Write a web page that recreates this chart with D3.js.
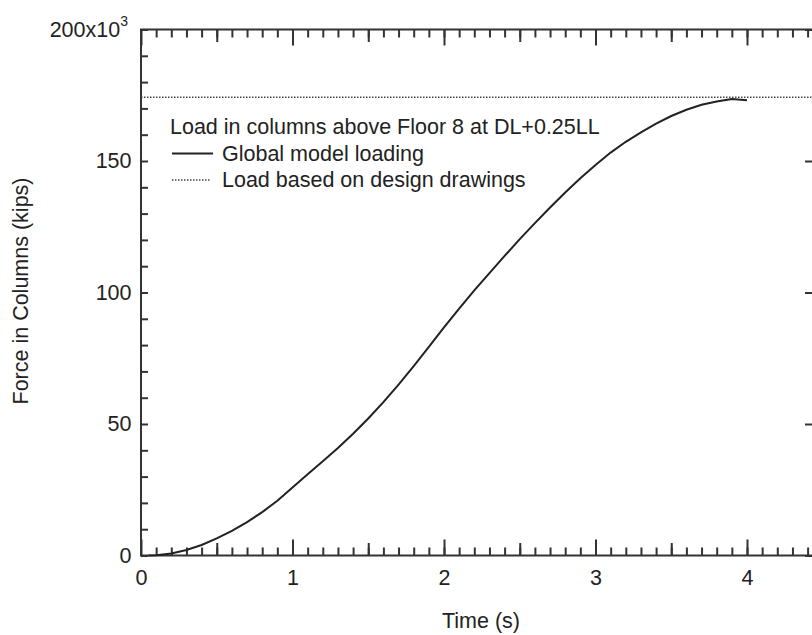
<!DOCTYPE html>
<html>
<head>
<meta charset="utf-8">
<script src="https://cdn.jsdelivr.net/npm/d3@7"></script>
<style>
  body { margin: 0; background: #fff; }
  text { font-family: "Liberation Sans", Arial, sans-serif; fill: #222; }
</style>
</head>
<body>
<div id="chart"></div>
<script>
// data (time in s, force in kips)
var timeValues = [0.05, 0.1, 0.2, 0.3, 0.4, 0.5, 0.6, 0.7, 0.8, 0.9, 1.0,
  1.1, 1.2, 1.3, 1.4, 1.5, 1.6, 1.7, 1.8, 1.9, 2.0,
  2.1, 2.2, 2.3, 2.4, 2.5, 2.6, 2.7, 2.8, 2.9, 3.0,
  3.1, 3.2, 3.3, 3.4, 3.5, 3.6, 3.7, 3.8, 3.9, 4.0];
var globalForce = [0, 100, 800, 2100, 4000, 6500, 9400, 12700, 16500, 20800, 25900,
  30900, 35800, 40900, 46300, 52100, 58300, 65000, 72000, 79300, 86700,
  93900, 100800, 107400, 113900, 120300, 126400, 132300, 138000, 143400, 148500,
  153200, 157300, 160900, 164200, 167100, 169500, 171400, 172600, 173600, 173100];
var designLoad = 174200;

var xMajor = [0, 1, 2, 3, 4];
var yLabels = [0, 50000, 100000, 150000, 200000];

var legendTitle = "Load in columns above Floor 8 at DL+0.25LL";
var legendItems = ["Global model loading", "Load based on design drawings"];

// dimensions (plot frame in pixels)
var width = 812, height = 635;
var pLeft = 141, pRight = 813, pTop = 29.5, pBottom = 555.5;
var fontSize = "21.5px";

var svg = d3.select("#chart")
  .append("svg")
  .attr("width", width)
  .attr("height", height);

var x = d3.scaleLinear().domain([0, 4]).range([pLeft, 747]);
var xMax = x.invert(pRight);
var y = d3.scaleLinear().domain([0, 200000]).range([pBottom, pTop]);

// tick lists
var xMinor = d3.range(1, Math.floor(xMax * 10) + 1).map(function (i) { return i / 10; });
var xMid = xMinor.filter(function (d) {
  return Math.abs(d * 2 - Math.round(d * 2)) < 1e-6 && Math.abs(d - Math.round(d)) > 1e-6;
});
var yMinor = d3.range(0, 21).map(function (i) { return i * 10000; });

function clean(g) {
  g.select(".domain").remove();
  g.selectAll(".tick line").attr("stroke", "#333").attr("stroke-width", 2);
  g.selectAll("text").style("font-size", fontSize);
}

// bottom axis
[[xMinor, 8], [xMid, 12.5]].forEach(function (p) {
  svg.append("g")
    .attr("transform", "translate(0," + pBottom + ")")
    .call(d3.axisBottom(x).tickValues(p[0]).tickSize(-p[1]).tickSizeOuter(0).tickFormat(""))
    .call(clean);
});
svg.append("g")
  .attr("transform", "translate(0," + pBottom + ")")
  .call(d3.axisBottom(x).tickValues(xMajor).tickSize(-16).tickSizeOuter(0).tickPadding(14.5).tickFormat(d3.format("d")))
  .call(clean);

// top axis
[[xMinor, 8], [xMid, 12.5], [xMajor, 16]].forEach(function (p) {
  svg.append("g")
    .attr("transform", "translate(0," + pTop + ")")
    .call(d3.axisTop(x).tickValues(p[0]).tickSize(-p[1]).tickSizeOuter(0).tickFormat(""))
    .call(clean);
});

// left axis
svg.append("g")
  .attr("transform", "translate(" + pLeft + ",0)")
  .call(d3.axisLeft(y).tickValues(yMinor).tickSize(-7).tickSizeOuter(0).tickFormat(""))
  .call(clean);
var yAx = svg.append("g")
  .attr("transform", "translate(" + pLeft + ",0)")
  .call(d3.axisLeft(y).tickValues(yLabels).tickSize(0).tickSizeOuter(0).tickPadding(9.5)
    .tickFormat(function (d) { return d / 1000; }))
  .call(clean);
yAx.selectAll(".tick text")
  .filter(function (d) { return d === 200000; })
  .text("200x10")
  .attr("x", -13)
  .append("tspan")
  .attr("dy", "-0.75em")
  .style("font-size", "14px")
  .text("3");

// right axis
svg.append("g")
  .attr("transform", "translate(" + pRight + ",0)")
  .call(d3.axisRight(y).tickValues(yLabels).tickSize(-8).tickSizeOuter(0).tickFormat(""))
  .call(clean);

// frame
svg.append("rect")
  .attr("x", pLeft).attr("y", pTop)
  .attr("width", pRight - pLeft).attr("height", pBottom - pTop)
  .attr("fill", "none").attr("stroke", "#333").attr("stroke-width", 2);

// design load line
svg.append("line")
  .attr("x1", pLeft).attr("x2", pRight)
  .attr("y1", y(designLoad)).attr("y2", y(designLoad))
  .attr("stroke", "#444").attr("stroke-width", 1.5)
  .attr("stroke-dasharray", "1.5,1.5");

// global model curve
var line = d3.line()
  .x(function (d, i) { return x(timeValues[i]); })
  .y(function (d) { return y(d); });
svg.append("path")
  .datum(globalForce)
  .attr("d", line)
  .attr("fill", "none")
  .attr("stroke", "#222")
  .attr("stroke-width", 2);

// legend
var lg = svg.append("g").style("font-size", fontSize);
lg.append("text").attr("x", 170).attr("y", 134).text(legendTitle);
lg.append("line").attr("x1", 172).attr("x2", 213).attr("y1", 153.5).attr("y2", 153.5)
  .attr("stroke", "#222").attr("stroke-width", 2);
lg.append("text").attr("x", 222).attr("y", 160.5).text(legendItems[0]);
lg.append("line").attr("x1", 172).attr("x2", 211).attr("y1", 180).attr("y2", 180)
  .attr("stroke", "#444").attr("stroke-width", 1.5).attr("stroke-dasharray", "1.5,1.5");
lg.append("text").attr("x", 222).attr("y", 187).text(legendItems[1]);

// axis titles
svg.append("text")
  .attr("x", 481)
  .attr("y", 628)
  .attr("text-anchor", "middle")
  .style("font-size", fontSize)
  .text("Time (s)");

svg.append("text")
  .attr("transform", "translate(28,291)rotate(-90)")
  .attr("text-anchor", "middle")
  .style("font-size", fontSize)
  .text("Force in Columns (kips)");
</script>
</body>
</html>
